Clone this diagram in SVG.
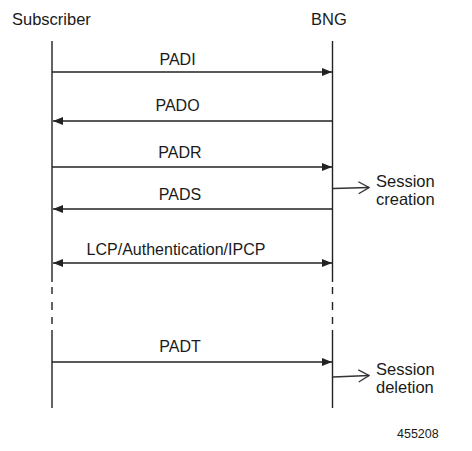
<svg xmlns="http://www.w3.org/2000/svg" width="472" height="451" viewBox="0 0 472 451">
<defs>
<style>
text{font-family:"Liberation Sans",Arial,sans-serif;fill:#1a1a1a}
.lbl{font-size:16px;text-anchor:middle}
.hdr{font-size:16.5px}
.note{font-size:16.5px}
.life{stroke:#222;stroke-width:1.4;fill:none}
.msg{stroke:#222;stroke-width:1.5;fill:none}
.ptr{stroke:#333;stroke-width:1.3;fill:none}
</style>
<marker id="ah" viewBox="0 0 10 8" refX="10" refY="4" markerWidth="10" markerHeight="8" markerUnits="userSpaceOnUse" orient="auto-start-reverse">
<path d="M0,0 L10,4 L0,8 Z" fill="#222"/>
</marker>
<marker id="oh" viewBox="0 0 12 14" refX="11" refY="7" markerWidth="12" markerHeight="14" markerUnits="userSpaceOnUse" orient="auto">
<path d="M0.5,1 L11,7 L0.5,13" fill="none" stroke="#333" stroke-width="1.3"/>
</marker>
</defs>
<g id="subscriber">
<text class="hdr" x="12" y="25">Subscriber</text>
<path class="life" d="M52,41 V282 M52,287 V294 M52,302 V310 M52,317 V324 M52,330 V408"/>
</g>
<g id="bng">
<text class="hdr" x="311" y="25">BNG</text>
<path class="life" d="M332.5,41 V282 M332.5,287 V294 M332.5,302 V310 M332.5,317 V324 M332.5,330 V408"/>
</g>
<g id="session-creation">
<text class="note" x="376" y="187">Session</text>
<text class="note" x="376" y="205">creation</text>
</g>
<g id="session-deletion">
<text class="note" x="376" y="375">Session</text>
<text class="note" x="376" y="393">deletion</text>
</g>
<g id="connectors">
<line class="msg" x1="52" y1="72" x2="332" y2="72" marker-end="url(#ah)"/>
<line class="msg" x1="332" y1="121" x2="53" y2="121" marker-end="url(#ah)"/>
<line class="msg" x1="52" y1="167" x2="332" y2="167" marker-end="url(#ah)"/>
<line class="msg" x1="332" y1="209" x2="53" y2="209" marker-end="url(#ah)"/>
<line class="msg" x1="53" y1="263" x2="332" y2="263" marker-start="url(#ah)" marker-end="url(#ah)"/>
<line class="msg" x1="52" y1="362" x2="332" y2="362" marker-end="url(#ah)"/>
<line class="ptr" x1="333" y1="188.5" x2="369" y2="187.5" marker-end="url(#oh)"/>
<line class="ptr" x1="333" y1="377" x2="369" y2="375.5" marker-end="url(#oh)"/>
<text class="lbl" x="177.5" y="65">PADI</text>
<text class="lbl" x="177.5" y="111">PADO</text>
<text class="lbl" x="180" y="158">PADR</text>
<text class="lbl" x="180" y="200">PADS</text>
<text class="lbl" x="176" y="255">LCP/Authentication/IPCP</text>
<text class="lbl" x="180" y="352">PADT</text>
</g>
<text x="397" y="438" style="font-size:12.5px">455208</text>
</svg>
